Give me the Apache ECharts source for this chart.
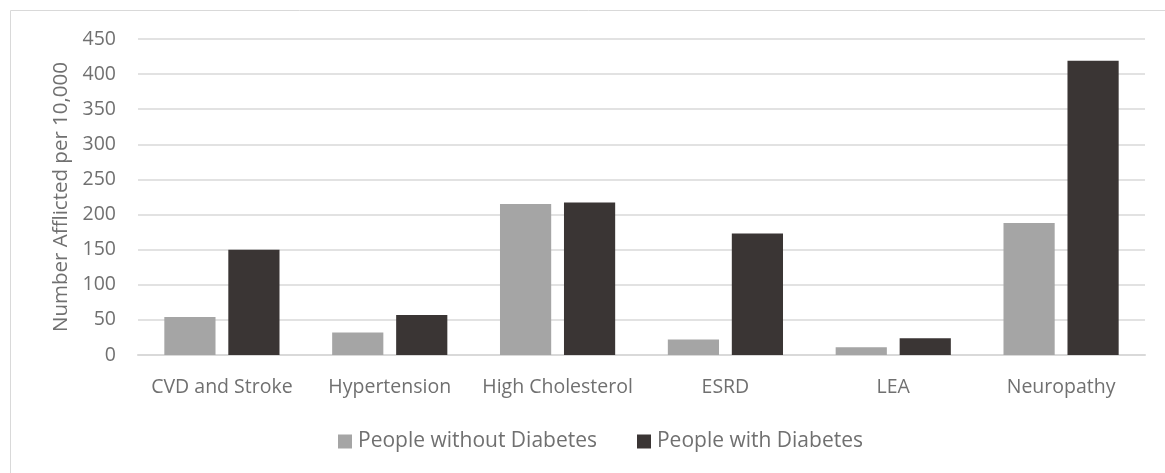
<!DOCTYPE html>
<html>
<head>
<meta charset="utf-8">
<script src="https://cdn.jsdelivr.net/npm/echarts@6/dist/echarts.min.js"></script>
<style>html,body{margin:0;padding:0;background:#fff;}#c{width:1165px;height:473px;}</style>
</head>
<body>
<div id="c"></div>
<script>
var categories = ['CVD and Stroke', 'Hypertension', 'High Cholesterol', 'ESRD', 'LEA', 'Neuropathy'];
var withoutDiabetes = [54, 32, 215, 22, 11, 188];
var withDiabetes = [150, 57, 217, 173, 24, 419];
var seriesNames = ['People without Diabetes', 'People with Diabetes'];
var yTicks = {min: 0, max: 450, interval: 50};
var yAxisTitle = 'Number Afflicted per 10,000';

var font = 'Open Sans';
var chart = echarts.init(document.getElementById('c'), null, {renderer: 'canvas'});
chart.setOption({
  animation: false,
  textStyle: {fontFamily: font},
  graphic: [{
    type: 'rect', silent: true,
    shape: {x: 10.5, y: 10.5, width: 1300, height: 600},
    style: {fill: 'none', stroke: '#d9d9d9', lineWidth: 1}
  }],
  grid: {left: 138, right: 20, top: 39, bottom: 118, containLabel: false},
  legend: {
    top: 426, left: 333,
    itemWidth: 14, itemHeight: 14, itemGap: 40,
    icon: 'rect',
    textStyle: {color: '#707070', fontSize: 21, fontFamily: font, padding: [0, 0, 0, 1]},
    data: seriesNames
  },
  xAxis: {
    type: 'category', data: categories,
    axisLine: {lineStyle: {color: '#d9d9d9', width: 2}},
    axisTick: {show: false},
    axisLabel: {color: '#707070', fontSize: 19.5, margin: 22, interval: 0, fontFamily: font}
  },
  yAxis: {
    type: 'value', min: yTicks.min, max: yTicks.max, interval: yTicks.interval,
    name: yAxisTitle, nameLocation: 'middle', nameGap: 58,
    nameTextStyle: {color: '#707070', fontSize: 20.5, fontFamily: font},
    axisLine: {show: false}, axisTick: {show: false},
    axisLabel: {color: '#707070', fontSize: 19.5, margin: 22, fontFamily: font},
    splitLine: {lineStyle: {color: '#d9d9d9', width: 1.5}}
  },
  series: [
    {name: seriesNames[0], type: 'bar', data: withoutDiabetes, barWidth: '30.5%', barGap: '25%',
     itemStyle: {color: '#a5a5a5'}},
    {name: seriesNames[1], type: 'bar', data: withDiabetes, barWidth: '30.5%', barGap: '25%',
     itemStyle: {color: '#3a3534'}}
  ]
});
</script>
</body>
</html>
